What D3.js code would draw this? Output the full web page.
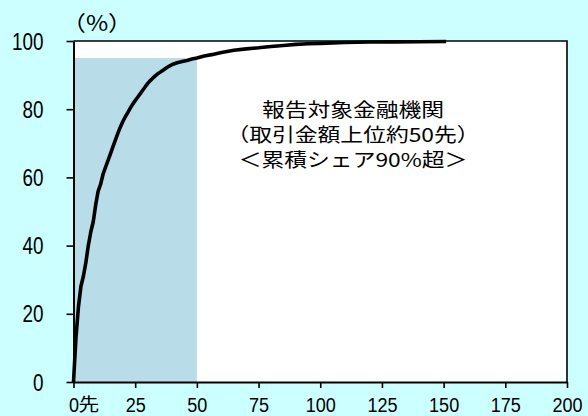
<!DOCTYPE html>
<html>
<head>
<meta charset="utf-8">
<script src="https://cdn.jsdelivr.net/npm/d3@7"></script>
<style>
html,body{margin:0;padding:0;background:#ccffff;}
svg{display:block;}
</style>
</head>
<body>
<svg id="chart" width="588" height="416"></svg>
<script>
// ---- data ----
const ranks = [0,1,2,3,4,5,6,7,8,9,10,11,12,13,14,15,16,17,18,19,20,21,22,23,24,25,26,27,28,29,30,31,32,33,34,35,36,37,38,39,40,42,44,46,48,50,53,56,60,65,70,75,80,85,90,95,100,105,110,115,120,130,140,151];
const shares = [0,13,22,28,31,35,40,44,47,52,56,58,61,63,65,67,69,71,73,74.8,76.4,77.8,79,80.3,81.5,82.5,83.5,84.5,85.5,86.5,87.5,88.3,89,89.7,90.3,90.8,91.3,91.8,92.3,92.7,93.1,93.6,94,94.3,94.7,95,95.6,96,96.6,97.3,97.7,98,98.4,98.7,99,99.2,99.3,99.45,99.55,99.65,99.7,99.75,99.8,99.85];
const shadeRank = [0, 50];
const shadeShare = 95;
const xTicks = [0,25,50,75,100,125,150,175,200];
const yTicks = [0,20,40,60,80,100];
const xDomain = [0,200];
const yDomain = [0,100];
const unitLabel = "（%）";
const firstTickSuffix = "先";
const noteLines = ["報告対象金融機関","（取引金額上位約50先）","＜累積シェア90%超＞"];

// ---- drawing ----
const svg = d3.select("#chart");
const W = 588, H = 416;
const x = d3.scaleLinear().domain(xDomain).range([73.5, 567]);
const y = d3.scaleLinear().domain(yDomain).range([382, 41]);
const numFont = "'Liberation Sans', Arial, sans-serif";
const jpFont = "'Noto Sans CJK JP', 'Noto Sans CJK SC', sans-serif";

svg.append("rect").attr("width", W).attr("height", H).attr("fill", "#ccffff");

// plot area
svg.append("rect")
  .attr("x", x(xDomain[0])).attr("y", y(yDomain[1]))
  .attr("width", x(xDomain[1]) - x(xDomain[0]))
  .attr("height", y(yDomain[0]) - y(yDomain[1]))
  .attr("fill", "#ffffff");

// shaded block
svg.append("rect")
  .attr("x", x(shadeRank[0])).attr("y", y(shadeShare))
  .attr("width", x(shadeRank[1]) - x(shadeRank[0]))
  .attr("height", y(0) - y(shadeShare))
  .attr("fill", "#b8dde8");

// frame top/right
svg.append("path")
  .attr("d", `M${x(xDomain[0])},${y(yDomain[1])}H${x(xDomain[1])}V${y(yDomain[0])}`)
  .attr("fill", "none").attr("stroke", "#000").attr("stroke-width", 1.6);

// curve
const pts = ranks.map((r, i) => [r, shares[i]]);
svg.append("path")
  .datum(pts)
  .attr("d", d3.line().x(d => x(d[0])).y(d => y(d[1])))
  .attr("fill", "none").attr("stroke", "#000")
  .attr("stroke-width", 3.6).attr("stroke-linejoin", "round").attr("stroke-linecap", "butt");

// y axis
const gy = svg.append("g").attr("transform", `translate(${x(0)},0)`)
  .call(d3.axisLeft(y).tickValues(yTicks).tickSize(7).tickSizeOuter(0).tickFormat(d3.format("d")));
gy.select(".domain").attr("stroke", "#000").attr("stroke-width", 2);
gy.selectAll(".tick line").attr("stroke", "#000").attr("stroke-width", 1.6);
gy.selectAll(".tick text")
  .attr("x", null).attr("dy", null)
  .attr("transform", "translate(-30,8) scale(0.82,1)")
  .attr("text-anchor", "end")
  .attr("fill", "#000")
  .style("font-family", numFont).style("font-size", "23px");

// x axis
const gx = svg.append("g").attr("transform", `translate(0,${y(0)})`)
  .call(d3.axisBottom(x).tickValues(xTicks).tickSize(6).tickSizeOuter(0).tickFormat(d3.format("d")));
gx.select(".domain").attr("stroke", "#000").attr("stroke-width", 2);
gx.selectAll(".tick line").attr("stroke", "#000").attr("stroke-width", 1.6);
gx.selectAll(".tick text")
  .attr("y", null).attr("dy", null)
  .attr("transform", "translate(0,29.5) scale(0.86,1)")
  .attr("text-anchor", "middle")
  .attr("fill", "#000")
  .style("font-family", numFont).style("font-size", "21px");

// suffix on first x tick
svg.append("text")
  .attr("transform", `translate(${x(xTicks[0]) + 5},${y(0) + 28.5}) scale(1.15,1)`)
  .attr("text-anchor", "start")
  .style("font-family", jpFont).style("font-size", "18px")
  .attr("fill", "#000")
  .text(firstTickSuffix);

// unit label
svg.append("text")
  .attr("transform", `translate(97,31) scale(1.15,1)`)
  .attr("text-anchor", "middle")
  .style("font-family", jpFont).style("font-size", "21px")
  .attr("fill", "#000")
  .text(unitLabel);

// annotation
const noteY = [117, 142, 167];
noteLines.forEach((t, i) => {
  svg.append("text")
    .attr("transform", `translate(353,${noteY[i]}) scale(1.2,1)`)
    .attr("text-anchor", "middle")
    .style("font-family", jpFont).style("font-size", "19px")
    .attr("fill", "#000")
    .text(t);
});
</script>
</body>
</html>
